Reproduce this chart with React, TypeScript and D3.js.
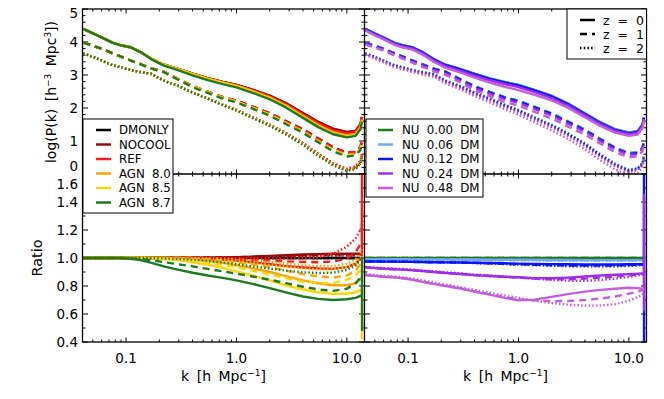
import React from 'react';
import * as d3 from 'd3';

// ---------------- DATA ----------------
const kGrid = [0.041, 0.05, 0.06, 0.075, 0.09, 0.11, 0.135, 0.17, 0.22, 0.3, 0.4, 0.55, 0.75, 1.0, 1.4, 2.0, 2.8, 4.0, 5.5, 7.5, 10, 12, 13.3, 13.7];
const spikeK = [13.72, 13.74];

// log10 P(k) of the reference (DMONLY / NU 0.00 DM) run at z = 0, 1, 2
const dmLogP_z0 = [4.40, 4.26, 4.14, 3.98, 3.90, 3.84, 3.70, 3.49, 3.31, 3.18, 3.04, 2.90, 2.79, 2.70, 2.55, 2.37, 2.14, 1.84, 1.57, 1.36, 1.26, 1.30, 1.50, 1.72];
const dmLogP_z1 = [3.98, 3.89, 3.80, 3.66, 3.56, 3.44, 3.33, 3.20, 3.10, 2.87, 2.66, 2.49, 2.33, 2.22, 2.04, 1.84, 1.60, 1.35, 1.07, 0.80, 0.64, 0.65, 0.80, 1.00];
const dmLogP_z2 = [3.66, 3.55, 3.44, 3.30, 3.23, 3.15, 3.09, 3.03, 2.83, 2.66, 2.47, 2.29, 2.10, 1.94, 1.72, 1.49, 1.24, 0.93, 0.60, 0.31, 0.13, 0.18, 0.33, 0.55];

const one = [1, 1, 1, 1, 1, 1, 1, 1, 1, 1, 1, 1, 1, 1, 1, 1, 1, 1, 1, 1, 1, 1, 1, 1];

// Ratios, baryon runs (left)
const nocool_z0 = [1, 1, 1, 1, 1, 1, 1, 1, 1, 1, 1.001, 1.002, 1.004, 1.006, 1.01, 1.015, 1.02, 1.025, 1.028, 1.03, 1.03, 1.03, 1.03, 1.03];
const nocool_z1 = [1, 1, 1, 1, 1, 1, 1, 1, 1, 1, 1.001, 1.002, 1.003, 1.005, 1.008, 1.012, 1.016, 1.02, 1.022, 1.024, 1.025, 1.025, 1.025, 1.025];
const nocool_z2 = [1, 1, 1, 1, 1, 1, 1, 1, 1, 1, 1, 1.001, 1.002, 1.004, 1.006, 1.009, 1.012, 1.015, 1.017, 1.018, 1.02, 1.02, 1.02, 1.02];
const ref_z0 = [1, 1, 1, 1, 1, 1, 1, 1, 1, 1, 0.998, 0.994, 0.988, 0.98, 0.97, 0.955, 0.942, 0.932, 0.925, 0.922, 0.935, 0.96, 1.0, 1.02];
const ref_z1 = [1, 1, 1, 1, 1, 1, 1, 1, 1, 1, 1, 0.998, 0.995, 0.992, 0.988, 0.982, 0.976, 0.972, 0.97, 0.975, 0.995, 1.04, 1.1, 1.12];
const ref_z2 = [1, 1, 1, 1, 1, 1, 1, 1, 1, 1, 1, 1, 0.999, 0.998, 0.997, 0.996, 0.996, 0.998, 1.005, 1.03, 1.08, 1.14, 1.2, 1.22];
const agn80_z0 = [1, 1, 1, 1, 1, 1, 1, 1, 0.998, 0.995, 0.99, 0.98, 0.965, 0.948, 0.928, 0.9, 0.87, 0.84, 0.82, 0.805, 0.805, 0.82, 0.85, 0.86];
const agn80_z1 = [1, 1, 1, 1, 1, 1, 1, 1, 1, 0.998, 0.995, 0.99, 0.982, 0.97, 0.955, 0.935, 0.91, 0.885, 0.868, 0.86, 0.875, 0.91, 0.96, 0.98];
const agn80_z2 = [1, 1, 1, 1, 1, 1, 1, 1, 1, 1, 1, 0.998, 0.995, 0.99, 0.982, 0.972, 0.96, 0.95, 0.943, 0.942, 0.96, 0.99, 1.04, 1.06];
const agn85_z0 = [1, 1, 1, 1, 1, 1, 1, 0.998, 0.993, 0.985, 0.97, 0.952, 0.93, 0.905, 0.875, 0.84, 0.805, 0.775, 0.755, 0.745, 0.745, 0.755, 0.77, 0.77];
const agn85_z1 = [1, 1, 1, 1, 1, 1, 1, 0.999, 0.996, 0.99, 0.98, 0.967, 0.952, 0.935, 0.91, 0.88, 0.855, 0.83, 0.82, 0.822, 0.845, 0.875, 0.915, 0.93];
const agn85_z2 = [1, 1, 1, 1, 1, 1, 1, 1, 1, 0.997, 0.994, 0.99, 0.983, 0.975, 0.963, 0.95, 0.937, 0.925, 0.918, 0.918, 0.935, 0.965, 1.01, 1.03];
const agn87_z0 = [1, 1, 1, 1, 1, 0.995, 0.985, 0.965, 0.94, 0.915, 0.895, 0.875, 0.858, 0.84, 0.815, 0.785, 0.755, 0.725, 0.708, 0.70, 0.705, 0.715, 0.73, 0.73];
const agn87_z1 = [1, 1, 1, 1, 1, 0.998, 0.993, 0.985, 0.97, 0.955, 0.94, 0.922, 0.905, 0.888, 0.868, 0.845, 0.82, 0.795, 0.775, 0.765, 0.78, 0.82, 0.86, 0.87];
const agn87_z2 = [1, 1, 1, 1, 1, 1, 1, 1, 0.997, 0.993, 0.988, 0.98, 0.968, 0.955, 0.94, 0.925, 0.91, 0.898, 0.893, 0.895, 0.915, 0.945, 0.99, 1.0];

// Ratios, neutrino runs (right)
const nu006_z0 = [0.992, 0.992, 0.991, 0.991, 0.991, 0.99, 0.99, 0.99, 0.99, 0.989, 0.989, 0.988, 0.988, 0.987, 0.987, 0.986, 0.986, 0.985, 0.985, 0.985, 0.985, 0.985, 0.985, 0.985];
const nu006_z1 = [0.991, 0.991, 0.99, 0.99, 0.99, 0.989, 0.989, 0.988, 0.988, 0.987, 0.987, 0.986, 0.986, 0.985, 0.985, 0.984, 0.983, 0.983, 0.983, 0.983, 0.983, 0.984, 0.984, 0.984];
const nu006_z2 = [0.991, 0.991, 0.99, 0.99, 0.99, 0.989, 0.989, 0.988, 0.988, 0.987, 0.986, 0.985, 0.985, 0.984, 0.983, 0.982, 0.982, 0.981, 0.981, 0.982, 0.982, 0.983, 0.983, 0.983];
const nu012_z0 = [0.975, 0.975, 0.974, 0.974, 0.973, 0.972, 0.971, 0.97, 0.969, 0.968, 0.966, 0.964, 0.962, 0.96, 0.958, 0.956, 0.955, 0.954, 0.954, 0.954, 0.955, 0.955, 0.955, 0.955];
const nu012_z1 = [0.975, 0.975, 0.974, 0.974, 0.973, 0.972, 0.971, 0.97, 0.969, 0.967, 0.965, 0.962, 0.959, 0.955, 0.952, 0.949, 0.947, 0.946, 0.946, 0.947, 0.949, 0.951, 0.952, 0.952];
const nu012_z2 = [0.976, 0.976, 0.975, 0.975, 0.974, 0.973, 0.972, 0.971, 0.969, 0.967, 0.964, 0.961, 0.957, 0.953, 0.949, 0.945, 0.942, 0.94, 0.94, 0.941, 0.944, 0.947, 0.95, 0.95];
const nu024_z0 = [0.933, 0.928, 0.924, 0.92, 0.917, 0.913, 0.907, 0.9, 0.893, 0.886, 0.878, 0.871, 0.866, 0.862, 0.856, 0.855, 0.86, 0.868, 0.875, 0.88, 0.885, 0.888, 0.89, 0.89];
const nu024_z1 = [0.933, 0.928, 0.924, 0.92, 0.917, 0.913, 0.907, 0.9, 0.893, 0.886, 0.878, 0.871, 0.866, 0.86, 0.853, 0.848, 0.848, 0.853, 0.86, 0.868, 0.876, 0.882, 0.886, 0.886];
const nu024_z2 = [0.936, 0.932, 0.928, 0.924, 0.921, 0.917, 0.911, 0.905, 0.898, 0.89, 0.882, 0.874, 0.867, 0.86, 0.852, 0.844, 0.838, 0.837, 0.842, 0.852, 0.865, 0.875, 0.882, 0.882];
const nu048_z0 = [0.878, 0.872, 0.866, 0.862, 0.855, 0.845, 0.83, 0.815, 0.8, 0.782, 0.76, 0.738, 0.715, 0.697, 0.703, 0.722, 0.742, 0.76, 0.772, 0.78, 0.787, 0.785, 0.78, 0.78];
const nu048_z1 = [0.878, 0.872, 0.866, 0.862, 0.855, 0.845, 0.83, 0.815, 0.8, 0.782, 0.761, 0.74, 0.72, 0.705, 0.697, 0.692, 0.693, 0.7, 0.71, 0.725, 0.745, 0.76, 0.77, 0.77];
const nu048_z2 = [0.885, 0.879, 0.873, 0.868, 0.862, 0.853, 0.84, 0.826, 0.81, 0.792, 0.772, 0.752, 0.732, 0.715, 0.695, 0.678, 0.667, 0.66, 0.66, 0.67, 0.695, 0.72, 0.74, 0.74];

// End-of-range spikes seen in the ratio panels (per z)
const refSpike = [[1.9], [1.35], [1.3]];
const agn85Spike = [[0.42], [], []];
const agn87Spike = [[1.0, 0.48], [], []];
const nu012Spike = [[2.0, 0.2], [], []];
const nu024Spike = [[1.45, 0.62], [], []];
const noSpike = [[], [], []];

const leftNames = ['DMONLY', 'NOCOOL', 'REF', 'AGN 8.0', 'AGN 8.5', 'AGN 8.7'];
const leftColors = ['#000000', '#9b0a0a', '#ff1a1a', '#ffa500', '#ffd700', '#1f7a1f'];
const rightNames = ['NU 0.00 DM', 'NU 0.06 DM', 'NU 0.12 DM', 'NU 0.24 DM', 'NU 0.48 DM'];
const rightColors = ['#1f7a1f', '#74a7f2', '#0a14ff', '#a02cf0', '#c15fdc'];
const zNames = ['z = 0', 'z = 1', 'z = 2'];
const xTickLabels = ['0.1', '1.0', '10.0'];
const xTickValues = [0.1, 1, 10];
const yTopTicks = [0, 1, 2, 3, 4, 5];
const yBotTicks = [0.4, 0.6, 0.8, 1.0, 1.2, 1.4, 1.6];

const dmBase = [dmLogP_z0, dmLogP_z1, dmLogP_z2];
const leftRatios = [
  [one, one, one],
  [nocool_z0, nocool_z1, nocool_z2],
  [ref_z0, ref_z1, ref_z2],
  [agn80_z0, agn80_z1, agn80_z2],
  [agn85_z0, agn85_z1, agn85_z2],
  [agn87_z0, agn87_z1, agn87_z2],
];
const leftSpikes = [noSpike, noSpike, refSpike, noSpike, agn85Spike, agn87Spike];
const rightRatios = [
  [one, one, one],
  [nu006_z0, nu006_z1, nu006_z2],
  [nu012_z0, nu012_z1, nu012_z2],
  [nu024_z0, nu024_z1, nu024_z2],
  [nu048_z0, nu048_z1, nu048_z2],
];
const rightSpikes = [noSpike, noSpike, nu012Spike, nu024Spike, noSpike];

// ---------------- LAYOUT ----------------
const W = 664, H = 399;
const X0 = 82.5, XM = 364.5, X1 = 646.5;
const Y0 = 9, YM = 174, Y1 = 342;
const KMIN = 0.0403, KMAX = 14.45;
const FONT = '"DejaVu Sans", sans-serif';
const dashes = [undefined, '7,5', '1.5,2.2'];
const LW = 2.4;

const xL = d3.scaleLog().domain([KMIN, KMAX]).range([X0, XM]);
const xR = d3.scaleLog().domain([KMIN, KMAX]).range([XM, X1]);
const yTop = d3.scaleLinear().domain([0, 5]).range([YM, Y0]);
const yBot = d3.scaleLinear().domain([0.4, 1.6]).range([Y1, YM]);

type Pt = [number, number];

function minorK(): number[] {
  const out: number[] = [];
  for (const dec of [0.01, 0.1, 1]) {
    for (let m = 2; m <= 9; m++) {
      const v = m * dec;
      if (v > KMIN && v < KMAX) out.push(v);
    }
  }
  return out;
}

function Panel({ x, y, x0, x1, y0, y1, yMajor, yMinorStep, clipId, showXLabels }: any) {
  const els: any[] = [];
  const MJ = 4.5, MN = 2.5;
  xTickValues.forEach((v, i) => {
    const px = x(v);
    els.push(<line key={'xb' + i} x1={px} x2={px} y1={y1} y2={y1 - MJ} stroke="#000" strokeWidth={1} />);
    els.push(<line key={'xt' + i} x1={px} x2={px} y1={y0} y2={y0 + MJ} stroke="#000" strokeWidth={1} />);
    if (showXLabels)
      els.push(<text key={'xl' + i} x={px} y={363} textAnchor="middle" fontSize={13.5} fontFamily={FONT}>{xTickLabels[i]}</text>);
  });
  minorK().forEach((v, i) => {
    const px = x(v);
    els.push(<line key={'xmb' + i} x1={px} x2={px} y1={y1} y2={y1 - MN} stroke="#000" strokeWidth={1} />);
    els.push(<line key={'xmt' + i} x1={px} x2={px} y1={y0} y2={y0 + MN} stroke="#000" strokeWidth={1} />);
  });
  const [ya, yb] = y.domain();
  const nMinor = Math.round((yb - ya) / yMinorStep);
  for (let i = 0; i <= nMinor; i++) {
    const v = ya + i * yMinorStep;
    const isMajor = yMajor.some((m: number) => Math.abs(m - v) < 1e-6);
    const len = isMajor ? MJ + 1 : MN + 0.5;
    const py = y(v);
    els.push(<line key={'yl' + i} x1={x0} x2={x0 + len} y1={py} y2={py} stroke="#000" strokeWidth={1} />);
    els.push(<line key={'yr' + i} x1={x1} x2={x1 - len} y1={py} y2={py} stroke="#000" strokeWidth={1} />);
  }
  return (
    <g>
      <defs>
        <clipPath id={clipId}>
          <rect x={x0} y={y0} width={x1 - x0} height={y1 - y0} />
        </clipPath>
      </defs>
      {els}
    </g>
  );
}

function Curves({ x, y, ratios, spikes, colors, top, clipId }: any) {
  const line = d3.line<Pt>().x((d) => x(d[0])).y((d) => y(d[1]));
  const paths: any[] = [];
  ratios.forEach((zr: number[][], mi: number) => {
    [0, 1, 2].forEach((z) => {
      const r = zr[z];
      let pts: Pt[];
      if (top) {
        pts = kGrid.map((k, i) => [k, dmBase[z][i] + Math.log10(r[i])] as Pt);
      } else {
        pts = kGrid.map((k, i) => [k, r[i]] as Pt);
        spikes[mi][z].forEach((v: number, j: number) => pts.push([spikeK[j], v]));
      }
      paths.push(
        <path key={mi + '-' + z} d={line(pts) || ''} fill="none" stroke={colors[mi]} strokeWidth={LW}
          strokeDasharray={dashes[z]} strokeLinejoin="round" />
      );
    });
  });
  return <g clipPath={`url(#${clipId})`}>{paths}</g>;
}

function Legend({ x, y, w, h, names, colors, lineX, textX, rowY }: any) {
  return (
    <g>
      <rect x={x} y={y} width={w} height={h} fill="#fff" stroke="#000" strokeWidth={1} />
      {names.map((n: string, i: number) => (
        <g key={n}>
          <line x1={lineX} x2={lineX + 15} y1={rowY + i * 14.5} y2={rowY + i * 14.5} stroke={colors[i]} strokeWidth={2.5} />
          <text x={textX} y={rowY + i * 14.5 + 4.3} fontSize={11.8} fontFamily={FONT} style={{ wordSpacing: '3.5px' }}>{n}</text>
        </g>
      ))}
    </g>
  );
}

// label vertical offsets (the extreme labels are nudged inward)
function topLabelY(v: number) {
  if (v === 5) return yTop(v) + 8.5;
  if (v === 0) return yTop(v) - 3;
  return yTop(v) + 5;
}
function botLabelY(v: number) {
  if (v === 1.6) return yBot(v) + 14.5;
  return yBot(v) + 5;
}

export default function App() {
  return (
    <svg width={W} height={H} style={{ position: 'absolute', left: 0, top: 0, background: '#fff' }}>
      <rect x={0} y={0} width={W} height={H} fill="#fff" />
      <Panel x={xL} y={yTop} x0={X0} x1={XM} y0={Y0} y1={YM} yMajor={yTopTicks} yMinorStep={0.2} clipId="cTL" showXLabels={false} />
      <Panel x={xR} y={yTop} x0={XM} x1={X1} y0={Y0} y1={YM} yMajor={yTopTicks} yMinorStep={0.2} clipId="cTR" showXLabels={false} />
      <Panel x={xL} y={yBot} x0={X0} x1={XM} y0={YM} y1={Y1} yMajor={yBotTicks} yMinorStep={0.1} clipId="cBL" showXLabels={true} />
      <Panel x={xR} y={yBot} x0={XM} x1={X1} y0={YM} y1={Y1} yMajor={yBotTicks} yMinorStep={0.1} clipId="cBR" showXLabels={true} />

      <Curves x={xL} y={yTop} ratios={leftRatios} spikes={leftSpikes} colors={leftColors} top={true} clipId="cTL" />
      <Curves x={xR} y={yTop} ratios={rightRatios} spikes={rightSpikes} colors={rightColors} top={true} clipId="cTR" />
      <Curves x={xL} y={yBot} ratios={leftRatios} spikes={leftSpikes} colors={leftColors} top={false} clipId="cBL" />
      <Curves x={xR} y={yBot} ratios={rightRatios} spikes={rightSpikes} colors={rightColors} top={false} clipId="cBR" />

      <rect x={X0} y={Y0} width={X1 - X0} height={Y1 - Y0} fill="none" stroke="#000" strokeWidth={1.3} />
      <line x1={XM} x2={XM} y1={Y0} y2={Y1} stroke="#000" strokeWidth={1.3} />
      <line x1={X0} x2={X1} y1={YM} y2={YM} stroke="#000" strokeWidth={1.3} />

      {yTopTicks.map((v) => (
        <text key={'yt' + v} x={78} y={topLabelY(v)} textAnchor="end" fontSize={13.5} fontFamily={FONT}>{String(v)}</text>
      ))}
      {yBotTicks.map((v) => (
        <text key={'yb' + v} x={78} y={botLabelY(v)} textAnchor="end" fontSize={13.5} fontFamily={FONT}>{v.toFixed(1)}</text>
      ))}

      <Legend x={83} y={119} w={90} h={94} names={leftNames} colors={leftColors} lineX={96} textX={119} rowY={130} />
      <Legend x={366} y={119} w={117} h={78} names={rightNames} colors={rightColors} lineX={378} textX={402} rowY={130} />
      <g>
        <rect x={567} y={Y0} width={X1 - 567} height={50} fill="#fff" stroke="#000" strokeWidth={1} />
        {zNames.map((n, i) => (
          <g key={n}>
            <line x1={580} x2={595} y1={20 + i * 14} y2={20 + i * 14} stroke="#000" strokeWidth={2.5} strokeDasharray={dashes[i]} />
            <text x={603} y={20 + i * 14 + 4.5} fontSize={12.5} fontFamily={FONT} style={{ wordSpacing: '4px' }}>{n}</text>
          </g>
        ))}
      </g>

      <text transform="translate(56,92) rotate(-90)" textAnchor="middle" fontSize={14} fontFamily={FONT} style={{ wordSpacing: '3px' }}>
        log(P(k) [h<tspan dy={-5} fontSize={9}>−3</tspan><tspan dy={5}> Mpc</tspan><tspan dy={-5} fontSize={9}>3</tspan><tspan dy={5}>])</tspan>
      </text>
      <text transform="translate(42,258) rotate(-90)" textAnchor="middle" fontSize={14.5} fontFamily={FONT}>Ratio</text>
      {[X0, XM].map((xs, i) => (
        <text key={'xt' + i} x={xs + 141} y={381} textAnchor="middle" fontSize={14} fontFamily={FONT} style={{ wordSpacing: '3px' }}>
          k [h Mpc<tspan dy={-5} fontSize={9}>−1</tspan><tspan dy={5}>]</tspan>
        </text>
      ))}
    </svg>
  );
}
